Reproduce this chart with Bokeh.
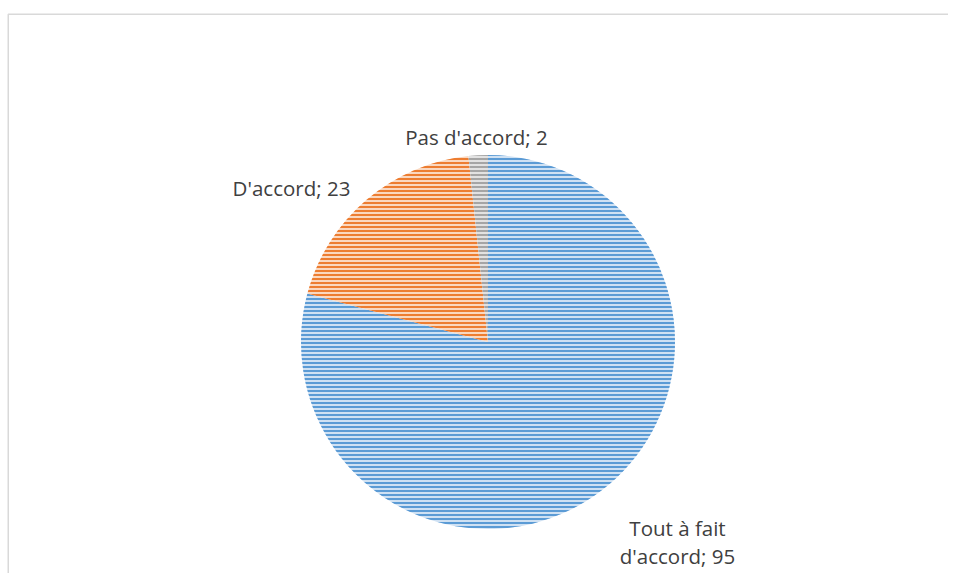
import numpy as np
from bokeh.plotting import figure
from bokeh.models import Range1d, ColumnDataSource
from bokeh.core.properties import value
from bokeh.embed import file_html
from bokeh.resources import INLINE

# ---- data ----
categories = ["Tout à fait d'accord", "D'accord", "Pas d'accord"]
values = [95, 23, 2]
display_names = ["Tout à fait\nd'accord", "D'accord", "Pas d'accord"]

# ---- styles / layout ----
hatch_colors = ["#5b9bd5", "#ed7d31", "#a5a5a5"]
fill_colors = ["#cfe1f3", "#fad8c0", "#e2e2e2"]
label_anchor = [(677, 527), (291, 187), (476, 136)]   # picture px (center, first baseline)
line_gap = 28
cx, cy, R = 487.5, 341.5, 187.0

W, H = 948, 573
p = figure(width=W, height=H, output_backend="svg", toolbar_location=None,
           x_axis_location=None, y_axis_location=None, min_border=0,
           x_range=Range1d(0, W), y_range=Range1d(-H, 0))
p.outline_line_color = None
p.grid.visible = False
p.background_fill_color = "white"

# chart border (light gray frame)
p.quad(left=[7.75], right=[3000], top=[-13.75], bottom=[-3000],
       fill_color=None, line_color="#d9d9d9", line_width=1.5)

# wedges: start at 12 o'clock, clockwise
vals = np.array(values, dtype=float)
frac = vals / vals.sum()
cum = np.concatenate([[0], np.cumsum(frac)])
start = np.pi / 2 - cum[1:] * 2 * np.pi
end = np.pi / 2 - cum[:-1] * 2 * np.pi
src = ColumnDataSource(dict(x=[cx] * len(vals), y=[-cy] * len(vals),
                            start=start, end=end,
                            fill=fill_colors, hatch=hatch_colors))
p.wedge(x="x", y="y", radius=R, start_angle="start", end_angle="end",
        fill_color="fill", hatch_color="hatch", hatch_pattern="horizontal_line",
        hatch_scale=4, hatch_weight=2, line_color=None, source=src)

# labels
tx, ty, tt = [], [], []
for name, v, (ax, ay) in zip(display_names, values, label_anchor):
    lines = f"{name}; {v}".split("\n")
    for i, ln in enumerate(lines):
        tx.append(ax)
        ty.append(-(ay + i * line_gap))
        tt.append(ln)
p.text(x=tx, y=ty, text=tt, text_font=value("Open Sans"), text_font_size="20.5px",
       text_color="#404040", text_align="center", text_baseline="alphabetic")

open("out.html", "w").write(file_html(p, INLINE))
